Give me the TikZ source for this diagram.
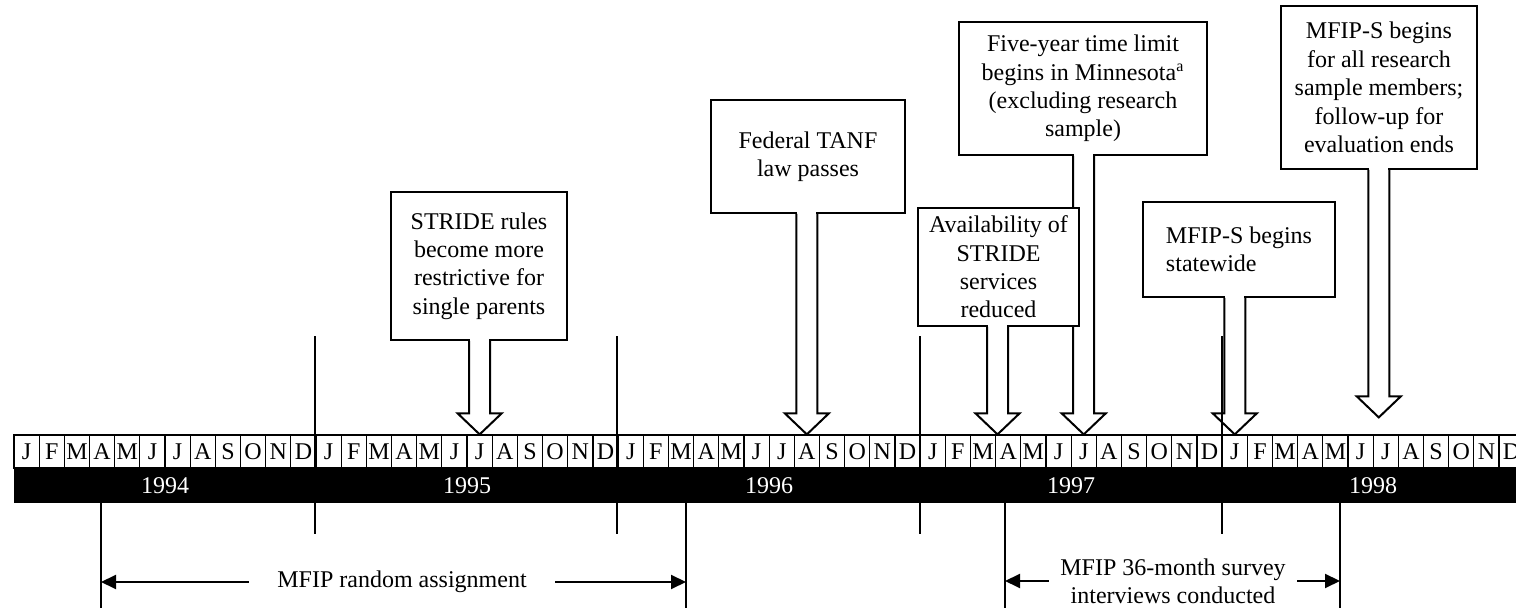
\documentclass[tikz,border=0pt]{standalone}
\usepackage{fontspec}
\setmainfont{Liberation Serif}
\usepackage{tikz}
\usetikzlibrary{arrows.meta,calc}

\tikzset{
  month/.style={draw, line width=0.6pt, fill=white, minimum width=12.585pt,
    minimum height=16.5pt, inner sep=0pt},
  yearbar/.style={fill=black, text=white, minimum width=151pt,
    minimum height=17.5pt, inner sep=0pt},
  event/.style={draw, line width=1pt, fill=white, inner sep=0pt, align=center},
  hollow/.style={line width=1pt, line join=miter},
  rule/.style={line width=1pt},
  spanarrow/.style={line width=1pt, -{Triangle[length=7.5pt,width=7pt]}},
}

% hollow arrow from the bottom of an event box down to a point of the timeline
\newcommand{\eventarrow}[2]{%
  \fill[white] let \p1=(#2), \p2=(#1.south) in
    (\x1-4.75pt,\y2-1pt) rectangle (\x1+4.75pt,\y2+1pt);
  \draw[hollow] let \p1=(#2), \p2=(#1.south) in
    (\x1-5.25pt,\y2) -- (\x1-5.25pt,\y1+10.5pt) -- (\x1-11pt,\y1+10.5pt) -- (\p1)
    -- (\x1+11pt,\y1+10.5pt) -- (\x1+5.25pt,\y1+10.5pt) -- (\x1+5.25pt,\y2);
}

\begin{document}
\begin{tikzpicture}[x=0.5pt, y=-0.5pt,
    every node/.style={font=\fontsize{12}{14.2}\selectfont}]
  \useasboundingbox (0,0) rectangle (1516,613);
  \clip (0,0) rectangle (1516,613);

  % months and years
  \foreach \yr in {0,...,4} {
    \foreach \m [count=\k from 0] in {J,F,M,A,M,J,J,A,S,O,N,D} {
      \pgfmathtruncatemacro\i{12*\yr+\k}
      \node[month] (m\i) at ({14+(\i+0.5)*25.17},451.5) {\m};
    }
    \pgfmathtruncatemacro\yy{1994+\yr}
    \node[yearbar] (y\yy) at ({165+302*\yr},485.5) {\yy};
  }
  \foreach \i in {12,24,36,48}
    \draw[rule] (m\i.north west) ++(0,-98) -- ++(0,198);

  % events
  \node[event, minimum width=88pt, minimum height=74pt] (stride) at (479,266)
    {STRIDE rules\\become more\\restrictive for\\single parents};
  \eventarrow{stride}{m18.north}

  \node[event, minimum width=97pt, minimum height=56.5pt] (tanf) at (808,156.5)
    {Federal TANF\\law passes};
  \eventarrow{tanf}{m31.north}

  \node[event, minimum width=124pt, minimum height=66.5pt] (limit) at (1083,88.5)
    {Five-year time limit\\begins in Minnesota\textsuperscript{a}\\(excluding research\\sample)};
  \eventarrow{limit}{m42.north}

  \coordinate (tipA) at ($(m39.north west)+(2.5,0)$);
  \node[event, minimum width=80.5pt, minimum height=59pt] (avail) at (998.5,267)
    {Availability of\\STRIDE\\services\\reduced};
  \eventarrow{avail}{tipA}

  \node[event, align=left, minimum width=96pt, minimum height=47.5pt] (statewide) at (1239,249.5)
    {MFIP-S begins\\statewide};
  \eventarrow{statewide}{m48.north}

  \coordinate (tipR) at ($(m53.north east)+(5,-17)$);
  \node[event, minimum width=98pt, minimum height=81.5pt] (research) at (1379,87.5)
    {MFIP-S begins\\for all research\\sample members;\\follow-up for\\evaluation ends};
  \eventarrow{research}{tipR}

  % periods below the timeline
  \coordinate (raL) at (101,503);
  \coordinate (raR) at (686,503);
  \draw[rule] (raL) -- ++(0,105) (raR) -- ++(0,105);
  \node[inner xsep=14pt] (assign) at (402,582) {MFIP random assignment};
  \draw[spanarrow] (assign.west) -- (assign.west -| raL);
  \draw[spanarrow] (assign.east) -- (assign.east -| raR);

  \coordinate (svL) at (1005,503);
  \coordinate (svR) at (1340,503);
  \draw[rule] (svL) -- ++(0,105) (svR) -- ++(0,105);
  \node[align=center, inner xsep=5.5pt] (survey) at (1173,581)
    {MFIP 36-month survey\\interviews conducted};
  \draw[spanarrow] (survey.west) -- (survey.west -| svL);
  \draw[spanarrow] (survey.east) -- (survey.east -| svR);
\end{tikzpicture}
\end{document}
